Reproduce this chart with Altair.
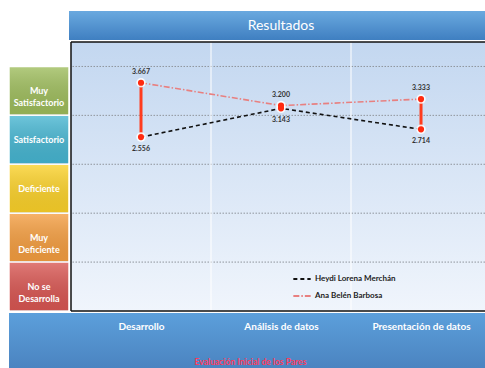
import altair as alt
import pandas as pd

# ---- data -------------------------------------------------------------
categories = ["Desarrollo", "Análisis de datos", "Presentación de datos"]
heydi = [2.556, 3.143, 2.714]
ana = [3.667, 3.200, 3.333]
series_names = ["Heydi Lorena Merchán", "Ana Belén Barbosa"]

levels = ["Muy\nSatisfactorio", "Satisfactorio", "Deficiente", "Muy\nDeficiente", "No se\nDesarrolla"]
level_top = [4, 3, 2, 1, 0]
level_colors = ["#9ebd5c", "#46b6d2", "#fcd229", "#f59e40", "#d95652"]
grid_levels = [0, 1, 2, 3, 4]
band_edges = [0.5, 1.5]
frame_y = [-1, 4.5]

FONT = "Lato"
W, H = 414, 269

x_scale = alt.Scale(domain=[-0.5, 2.457], nice=False, zero=False)
y_scale = alt.Scale(domain=[-1, 4.5], nice=False, zero=False)

label_expr = "[" + ",".join("'%s'" % c for c in categories) + "][datum.value]"
x_axis = alt.Axis(values=[0, 1, 2], labelExpr=label_expr,
                  grid=False, ticks=False, domain=False, labelColor="white",
                  labelFont=FONT, labelFontWeight="bold", labelFontSize=10,
                  labelPadding=10, zindex=2,
                  title="Evaluación Inicial de los Pares", titleColor="#ff3b5c",
                  titleFont=FONT, titleFontWeight="bold", titleFontSize=8.5,
                  titleX=179, titleY=50, titleBaseline="middle", titleAnchor="middle",
                  titleAlign="center")


def grad(top, bottom):
    return {"gradient": "linear", "x1": 0, "x2": 0, "y1": 0, "y2": 1,
            "stops": [{"offset": 0, "color": top}, {"offset": 1, "color": bottom}]}


def xq(field):
    return alt.X(field, scale=x_scale, axis=x_axis)


def yq(field):
    return alt.Y(field, scale=y_scale, axis=None)


one = pd.DataFrame({"k": [0]})

wide = pd.DataFrame({"idx": range(len(categories)), "heydi": heydi, "ana": ana})
wide["lo"] = wide[["heydi", "ana"]].min(axis=1)
wide["hi"] = wide[["heydi", "ana"]].max(axis=1)

long = pd.concat([
    pd.DataFrame({"idx": range(3), "serie": series_names[0], "v": heydi}),
    pd.DataFrame({"idx": range(3), "serie": series_names[1], "v": ana}),
], ignore_index=True)

rating = pd.DataFrame({"name": levels, "top": level_top})
rating["bot"] = rating["top"] - 1
rating["mid"] = rating["top"] - 0.5

legend = alt.Legend(title=None, orient="none", legendX=221, legendY=227,
                    symbolType="stroke", symbolSize=300, symbolStrokeWidth=1.8,
                    labelFont=FONT, labelFontWeight="bold", labelFontSize=8,
                    labelColor="#222", rowPadding=3, labelOffset=3, zindex=2)

# plot area background and grid
bg = alt.Chart(one).mark_rect(fill=grad("#c3d7f0", "#f0f5fc")).encode(
    x=alt.value(0), x2=alt.value(W), y=alt.value(0), y2=alt.value(H))

hgrid = alt.Chart(pd.DataFrame({"g": grid_levels})).mark_rule(
    color="#8f959c", strokeDash=[1.5, 1.5], strokeWidth=1).encode(y=yq("g:Q"))

vgrid = alt.Chart(pd.DataFrame({"idx": band_edges})).mark_rule(color="white", strokeWidth=1).encode(
    x=xq("idx:Q"), y=alt.value(0), y2=alt.value(H))

# header and footer bands
header = alt.Chart(one).mark_rect(fill=grad("#6aa9df", "#3f7fc1")).encode(
    x=alt.value(-2), x2=alt.value(W), y=alt.value(-31), y2=alt.value(-2))
header_text = alt.Chart(pd.DataFrame({"t": ["Resultados"]})).mark_text(
    font=FONT, fontSize=14, color="white").encode(
    x=alt.value(210), y=alt.value(-16), text="t:N")
footer = alt.Chart(one).mark_rect(fill=grad("#5c9fdb", "#4a82bf")).encode(
    x=alt.value(-62), x2=alt.value(W), y=alt.value(H + 2), y2=alt.value(H + 60))

# rating boxes on the left
box = alt.Chart(rating).mark_rect(stroke="white", strokeWidth=1.5).encode(
    x=alt.value(-62), x2=alt.value(-2), y=yq("top:Q"), y2="bot:Q",
    fill=alt.Fill("name:N", scale=alt.Scale(domain=levels, range=level_colors), legend=None))
box_shade = alt.Chart(rating).mark_rect(
    fill=grad("rgba(255,255,255,0.22)", "rgba(0,0,0,0.08)")).encode(
    x=alt.value(-61), x2=alt.value(-3), y=yq("top:Q"), y2="bot:Q")
box_text = alt.Chart(rating).mark_text(font=FONT, fontWeight="bold", fontSize=9, color="white",
                                       lineBreak="\n", lineHeight=12).encode(
    x=alt.value(-32), y=yq("mid:Q"), text="name:N")

# series
lines = alt.Chart(long).mark_line(strokeWidth=1.6).encode(
    x=xq("idx:Q"),
    y=yq("v:Q"),
    color=alt.Color("serie:N", scale=alt.Scale(domain=series_names, range=["#111111", "#e88080"]),
                    legend=legend),
    strokeDash=alt.StrokeDash("serie:N", scale=alt.Scale(domain=series_names,
                                                         range=[[4, 3], [6, 2, 1.5, 2]]),
                              legend=legend),
)

hilo = alt.Chart(wide).mark_rule(color="#ff3c1e", strokeWidth=3).encode(
    x=xq("idx:Q"), y=yq("lo:Q"), y2="hi:Q")

halo = alt.Chart(long).mark_circle(color="white", opacity=0.85, size=90).encode(
    x=xq("idx:Q"), y=yq("v:Q"))
dots = alt.Chart(long).mark_circle(color="#ff2a10", opacity=1, size=38).encode(
    x=xq("idx:Q"), y=yq("v:Q"))

lbl_hi = alt.Chart(wide).mark_text(font=FONT, fontSize=7, fontWeight="bold", color="#333",
                                   dy=-11).encode(
    x=xq("idx:Q"), y=yq("hi:Q"), text=alt.Text("hi:Q", format=".3f"))
lbl_lo = alt.Chart(wide).mark_text(font=FONT, fontSize=7, fontWeight="bold", color="#333",
                                   dy=12).encode(
    x=xq("idx:Q"), y=yq("lo:Q"), text=alt.Text("lo:Q", format=".3f"))

# dark frame on the left, top and bottom of the plot
frame_h = alt.Chart(pd.DataFrame({"f": frame_y})).mark_rule(color="#111", strokeWidth=1.5).encode(
    y=yq("f:Q"))
frame_v = alt.Chart(pd.DataFrame({"idx": [-0.5]})).mark_rule(color="#111", strokeWidth=1.5).encode(
    x=xq("idx:Q"), y=alt.value(0), y2=alt.value(H))

chart = alt.layer(
    bg, hgrid, vgrid, footer, header, header_text, box, box_shade, box_text,
    lines, hilo, halo, dots, lbl_hi, lbl_lo, frame_h, frame_v,
).properties(
    width=W, height=H,
    autosize=alt.AutoSizeParams(type="none"),
    padding={"left": 71, "top": 42, "right": 0, "bottom": 57},
    background="white",
).configure_view(stroke=None)

chart.save("out.html", embed_options={"renderer": "svg", "actions": False})
